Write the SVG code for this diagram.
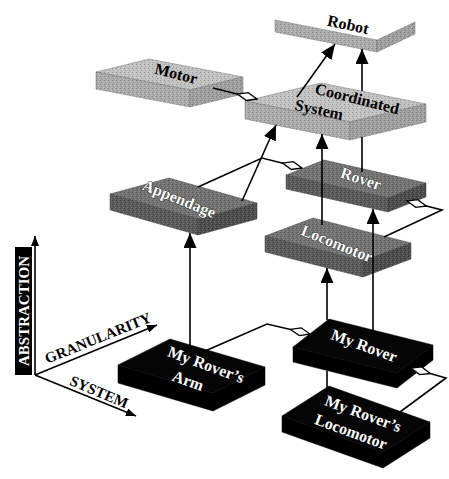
<svg xmlns="http://www.w3.org/2000/svg" width="449" height="479" viewBox="0 0 449 479">
<style>
  .lbl { font-family: "Liberation Serif", "Times New Roman", serif; font-weight: bold; font-size: 16px; text-anchor: middle; }
  .dk { fill: #000; }
  .wt { fill: #fff; stroke: #222; stroke-width: 0.8; paint-order: stroke; }
  .wb { fill: #fff; }
  .light .top { fill: #c2c2c2; }
  .light .lf { fill: #acacac; }
  .light .rf { fill: #a0a0a0; }
  .mid .top { fill: #737373; }
  .mid .lf { fill: #5a5a5a; }
  .mid .rf { fill: #4c4c4c; }
  .blk .top { fill: #050505; }
  .blk .lf { fill: #000; }
  .blk .rf { fill: #000; }
  .face { stroke: #777; stroke-width: 0.5; stroke-linejoin: round; }
  .mid .face { stroke: #444; }
  .blk .face { stroke: #000; }
  .tex { fill: url(#grain); stroke: none; }
  .conn { fill: none; stroke: #000; stroke-width: 1.6; }
  .arrow { marker-end: url(#arr); }
  .agg { marker-end: url(#dia); }
  .axis { fill: none; stroke: #000; stroke-width: 1.6; marker-end: url(#axarr); }
  .axl { font-family: "Liberation Serif", "Times New Roman", serif; font-weight: bold; font-size: 15px; text-anchor: middle; }
</style>
<defs>
  <pattern id="grain" width="4" height="4" patternUnits="userSpaceOnUse">
    <rect x="0" y="0" width="1" height="1" fill="#000" opacity="0.22"/>
    <rect x="2" y="1" width="1" height="1" fill="#fff" opacity="0.18"/>
    <rect x="1" y="2" width="1" height="1" fill="#000" opacity="0.15"/>
    <rect x="3" y="3" width="1" height="1" fill="#fff" opacity="0.15"/>
  </pattern>
  <marker id="arr" viewBox="0 0 15 13" refX="15" refY="6.5" markerWidth="15" markerHeight="13" markerUnits="userSpaceOnUse" orient="auto">
    <path d="M0,0 L15,6.5 L0,13 Z" fill="#000"/>
  </marker>
  <marker id="axarr" viewBox="0 0 10 8" refX="10" refY="4" markerWidth="10" markerHeight="8" markerUnits="userSpaceOnUse" orient="auto">
    <path d="M0,0 L10,4 L0,8 Z" fill="#000"/>
  </marker>
  <marker id="dia" viewBox="-1 -1 22 10" refX="20" refY="4" markerWidth="22" markerHeight="10" markerUnits="userSpaceOnUse" orient="auto">
    <path d="M0,4 L10,0 L20,4 L10,8 Z" fill="#fff" stroke="#000" stroke-width="1.3"/>
  </marker>
</defs>
<rect width="449" height="479" fill="#fff"/>

<!-- Axes -->
<g id="axes">
  <rect x="15" y="247" width="17" height="128" fill="#000"/>
  <text class="axl wb" transform="translate(24,311) rotate(-90)" y="5">ABSTRACTION</text>
  <path class="axis" d="M35,375 L35,236"/>
  <path class="axis" d="M35,375 L157,325"/>
  <path class="axis" d="M35,375 L136,416"/>
  <text class="axl dk" transform="translate(98,338) rotate(-22)" y="5">GRANULARITY</text>
  <text class="axl dk" transform="translate(99,392) rotate(23)" y="5">SYSTEM</text>
</g>

<!-- Nodes -->
<g id="robot" class="light">
  <polygon points="275,20 313,2 415,22 377,40" fill="#fff"/>
  <polygon class="face lf" points="275,20 377,40 377,52 275,32"/>
  <polygon class="face rf" points="377,40 415,22 415,34 377,52"/>
  <polygon class="tex" points="275,20 377,40 415,22 415,34 377,52 275,32"/>
  <text class="lbl dk" transform="translate(348,25) rotate(12)" y="5">Robot</text>
</g>
<g id="motor" class="light">
  <polygon class="face top" points="96,72 149,59 243,77 190,90"/>
  <polygon class="face lf" points="96,72 190,90 190,107 96,89"/>
  <polygon class="face rf" points="190,90 243,77 243,94 190,107"/>
  <polygon class="tex" points="96,72 149,59 243,77 243,94 190,107 96,89"/>
  <text class="lbl dk" transform="translate(176,74) rotate(14)" y="5">Motor</text>
</g>
<g id="coordinated-system" class="light">
  <polygon class="face top" points="245,101 321,83 426,104 350,122"/>
  <polygon class="face lf" points="245,101 350,122 350,140 245,119"/>
  <polygon class="face rf" points="350,122 426,104 426,122 350,140"/>
  <polygon class="tex" points="245,101 321,83 426,104 426,122 350,140 245,119"/>
  <text class="lbl dk" transform="translate(357,99) rotate(14)" y="5">Coordinated</text>
  <text class="lbl dk" transform="translate(319,110) rotate(12)" y="5">System</text>
</g>
<g id="appendage" class="mid">
  <polygon class="face top" points="110,194 169,178 257,203 198,219"/>
  <polygon class="face lf" points="110,194 198,219 198,235 110,210"/>
  <polygon class="face rf" points="198,219 257,203 257,219 198,235"/>
  <polygon class="tex" points="110,194 169,178 257,203 257,219 198,235 110,210"/>
  <text class="lbl wt" transform="translate(179,199) rotate(22)" y="5">Appendage</text>
</g>
<g id="rover" class="mid">
  <polygon class="face top" points="286,175 324,160 426,183 388,198"/>
  <polygon class="face lf" points="286,175 388,198 388,212 286,189"/>
  <polygon class="face rf" points="388,198 426,183 426,197 388,212"/>
  <polygon class="tex" points="286,175 324,160 426,183 426,197 388,212 286,189"/>
  <text class="lbl wt" transform="translate(361,179) rotate(18)" y="5">Rover</text>
</g>
<g id="locomotor" class="mid">
  <polygon class="face top" points="265,236 313,218 411,243 363,261"/>
  <polygon class="face lf" points="265,236 363,261 363,277 265,252"/>
  <polygon class="face rf" points="363,261 411,243 411,259 363,277"/>
  <polygon class="tex" points="265,236 313,218 411,243 411,259 363,277 265,252"/>
  <text class="lbl wt" transform="translate(337,244) rotate(22)" y="5">Locomotor</text>
</g>
<g id="my-rovers-arm" class="blk">
  <polygon class="face top" points="118,365 170,339 265,367 213,393"/>
  <polygon class="face lf" points="118,365 213,393 213,411 118,383"/>
  <polygon class="face rf" points="213,393 265,367 265,385 213,411"/>
  <text class="lbl wb" transform="translate(206,365) rotate(20)" y="5">My Rover’s</text>
  <text class="lbl wb" transform="translate(188,381) rotate(20)" y="5">Arm</text>
</g>
<g id="my-rover" class="blk">
  <polygon class="face top" points="293,347 329,319 433,345 397,373"/>
  <polygon class="face lf" points="293,347 397,373 397,388 293,362"/>
  <polygon class="face rf" points="397,373 433,345 433,360 397,388"/>
  <text class="lbl wb" transform="translate(364,346) rotate(20)" y="5">My Rover</text>
</g>
<g id="my-rovers-locomotor" class="blk">
  <polygon class="face top" points="282,416 329,386 430,422 383,452"/>
  <polygon class="face lf" points="282,416 383,452 383,468 282,432"/>
  <polygon class="face rf" points="383,452 430,422 430,438 383,468"/>
  <text class="lbl wb" transform="translate(363,414) rotate(20)" y="5">My Rover’s</text>
  <text class="lbl wb" transform="translate(351,432) rotate(20)" y="5">Locomotor</text>
</g>

<!-- Connectors -->
<g id="connectors">
  <path class="conn arrow" d="M362,172 L362,137 M362,91 L362,49"/>
  <path class="conn arrow" d="M297,97 L335,44"/>
  <path class="conn arrow" d="M242,201 L276,125"/>
  <path class="conn arrow" d="M322,225 L322,134"/>
  <path class="conn arrow" d="M373,334 L373,209"/>
  <path class="conn arrow" d="M190,348 L190,233"/>
  <path class="conn arrow" d="M327,392 L327,371 M327,320 L327,268"/>
  <path class="conn agg" d="M213,88 L257,99"/>
  <path class="conn agg" d="M198,187 L262,158 L302,168"/>
  <path class="conn agg" d="M384,237 L442,210 L407,201"/>
  <path class="conn agg" d="M205,351 L267,324 L310,334"/>
  <path class="conn agg" d="M400,412 L446,378 L411,368"/>
</g>
</svg>
